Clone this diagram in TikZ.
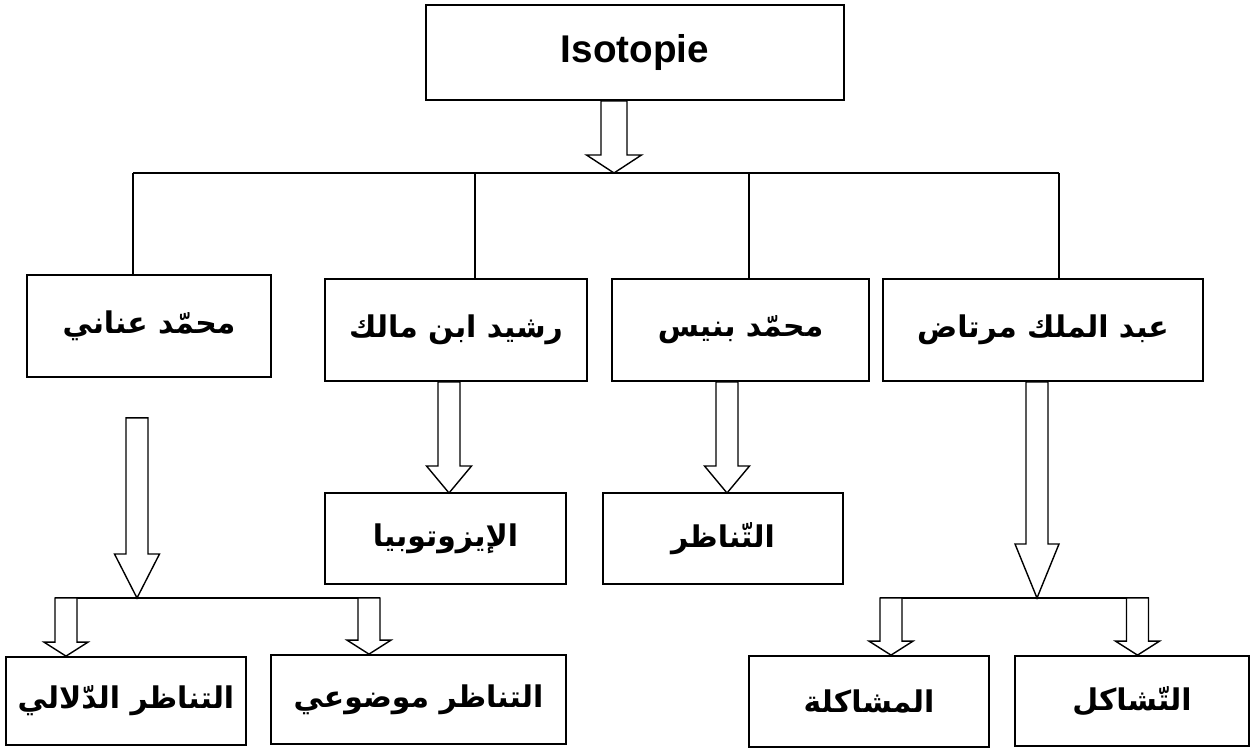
\documentclass[tikz,border=0pt]{standalone}
\usepackage{fontspec}
\setmainfont{Liberation Sans}
\newfontfamily\arabicfont[Script=Arabic]{DejaVu Sans}
\TeXXeTstate=1
\usetikzlibrary{calc}

\tikzset{
    box/.style={draw, line width=1pt, inner sep=0pt, align=center,
        font=\arabicfont\bfseries\fontsize{17}{21}\selectfont},
    topbox/.style={draw, line width=1pt, inner sep=0pt,
        font=\bfseries\fontsize{22}{26}\selectfont},
    blockarrow/.style={draw, line width=0.8pt, fill=white, line join=miter},
    bus/.style={line width=0.8pt}
}

% hollow block arrow: start, tip, shaft half width, head half width, head length
\newcommand{\hollowarrow}[5]{%
    \draw[blockarrow] ($(#2 |- #1)+(-#3,0)$) -- ($(#2)+(-#3,-#5)$) -- ($(#2)+(-#4,-#5)$)
        -- (#2) -- ($(#2)+(#4,-#5)$) -- ($(#2)+(#3,-#5)$) -- ($(#2 |- #1)+(#3,0)$) -- cycle;
}

\begin{document}
\begin{tikzpicture}[x=0.02cm, y=-0.02cm]
    \useasboundingbox (0,0) rectangle (1250,749);
    % Draw the top box
    \node[topbox, minimum width=8.36cm, minimum height=1.9cm] (top) at (635,52.5) {Isotopie};
    % Draw the four authors
    \node[box, minimum width=4.88cm, minimum height=2.04cm] (anani) at (149,326) {\beginR محمّد عناني\endR};
    \node[box, minimum width=5.24cm, minimum height=2.04cm] (malek) at (456,330) {\beginR رشيد ابن مالك\endR};
    \node[box, minimum width=5.14cm, minimum height=2.04cm] (bennis) at (740.5,330) {\beginR محمّد بنيس\endR};
    \node[box, minimum width=6.4cm, minimum height=2.04cm] (mortad) at (1043,330) {\beginR عبد الملك مرتاض\endR};
    % Draw the terms
    \node[box, minimum width=4.82cm, minimum height=1.82cm] (izo) at (445.5,538.5) {\beginR الإيزوتوبيا\endR};
    \node[box, minimum width=4.8cm, minimum height=1.82cm] (tanazur) at (723,538.5) {\beginR التّناظر\endR};
    \node[box, minimum width=4.8cm, minimum height=1.76cm] (dalali) at (126,701) {\beginR التناظر الدّلالي\endR};
    \node[box, minimum width=5.9cm, minimum height=1.78cm] (mawdui) at (418.5,699.5) {\beginR التناظر موضوعي\endR};
    \node[box, minimum width=4.8cm, minimum height=1.82cm] (mushakala) at (869,701.5) {\beginR المشاكلة\endR};
    \node[box, minimum width=4.68cm, minimum height=1.8cm] (tashakul) at (1132,701) {\beginR التّشاكل\endR};
    % Draw the main bus
    \coordinate (hub) at (614,173);
    \foreach \x/\n in {133/anani, 475/malek, 749/bennis, 1059/mortad} {
            \coordinate (d\n) at (\x,173);
            \draw[bus] (d\n) -- (d\n |- \n.north);
        }
    \draw[bus] (danani) -- (dmortad);
    \hollowarrow{top.south}{hub}{13}{27.5}{18}
    % Arrows to the single terms
    \coordinate (tipizo) at (449,493);
    \coordinate (tiptanazur) at (727,493);
    \hollowarrow{malek.south}{tipizo}{11}{22.5}{27}
    \hollowarrow{bennis.south}{tiptanazur}{11}{22.5}{27}
    % Left branch
    \coordinate (hubL) at (137,598);
    \coordinate (gapL) at ($(anani.south)+(0,40)$);
    \hollowarrow{gapL}{hubL}{11}{22.5}{44}
    \coordinate (tipdalali) at (66,0 |- dalali.north);
    \coordinate (tipmawdui) at (369,0 |- mawdui.north);
    \draw[bus] ($(tipdalali |- hubL)+(-11,0)$) -- ($(tipmawdui |- hubL)+(11,0)$);
    \hollowarrow{hubL}{tipdalali}{11}{22}{14}
    \hollowarrow{hubL}{tipmawdui}{11}{22}{14}
    % Right branch
    \coordinate (hubR) at (1037,598);
    \hollowarrow{mortad.south}{hubR}{11}{22}{54}
    \coordinate (tipmushakala) at (891,0 |- mushakala.north);
    \coordinate (tiptashakul) at (1137.5,0 |- tashakul.north);
    \draw[bus] ($(tipmushakala |- hubR)+(-11,0)$) -- ($(tiptashakul |- hubR)+(11,0)$);
    \hollowarrow{hubR}{tipmushakala}{11}{22}{14}
    \hollowarrow{hubR}{tiptashakul}{11}{22}{14}
\end{tikzpicture}
\end{document}
